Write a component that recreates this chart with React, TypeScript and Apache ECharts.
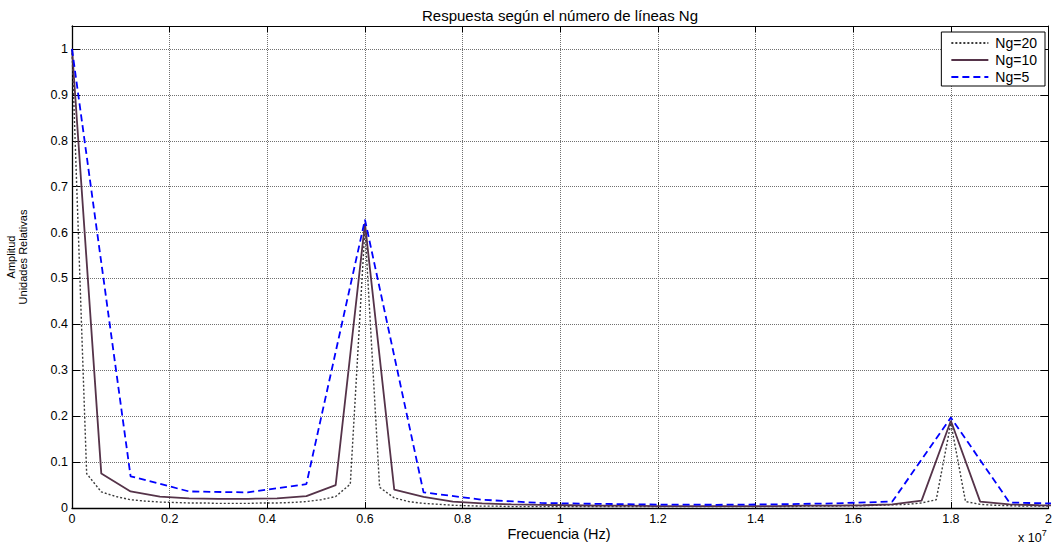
import React, { useEffect, useRef } from "react";
import * as echarts from "echarts";

const FONT = '"Liberation Sans", Arial, Helvetica, sans-serif';

// Frequency sampling steps (Hz) of each curve
const ng20Step = 0.3e6;
const ng10Step = 0.6e6;
const ng5Step = 1.2e6;

// Relative amplitude
const ng20Amp = [
  1.0, 0.075, 0.035, 0.025, 0.018, 0.015, 0.013, 0.012, 0.011, 0.011,
  0.010, 0.010, 0.010, 0.011, 0.011, 0.012, 0.014, 0.018, 0.025, 0.052,
  0.61, 0.045, 0.022, 0.014, 0.010, 0.008, 0.006, 0.005, 0.004, 0.004,
  0.003, 0.003, 0.003, 0.003, 0.003, 0.003, 0.003, 0.003, 0.003, 0.003,
  0.003, 0.003, 0.003, 0.003, 0.003, 0.003, 0.003, 0.003, 0.003, 0.003,
  0.004, 0.004, 0.004, 0.005, 0.005, 0.006, 0.007, 0.008, 0.011, 0.018,
  0.185, 0.014, 0.008, 0.006, 0.005, 0.004, 0.004, 0.004,
];
const ng10Amp = [
  1.0, 0.075, 0.036, 0.025, 0.021, 0.020, 0.020, 0.021, 0.026, 0.050,
  0.62, 0.040, 0.024, 0.014, 0.010, 0.008, 0.007, 0.006, 0.005, 0.005,
  0.004, 0.004, 0.004, 0.004, 0.004, 0.005, 0.005, 0.006, 0.008, 0.016,
  0.19, 0.014, 0.008, 0.006, 0.005,
];
const ng5Amp = [
  1.0, 0.069, 0.036, 0.034, 0.052, 0.628, 0.034, 0.018, 0.011, 0.009,
  0.0075, 0.007, 0.008, 0.010, 0.014, 0.197, 0.012, 0.009,
];

const seriesNames = ["Ng=20", "Ng=10", "Ng=5"];
const xTickInterval = 2e6;
const xMax = 2e7;
const yMax = 1.05;

const toPairs = (amp: number[], step: number) => amp.map((a, i) => [i * step, a]);

export default function App() {
  const ref = useRef<HTMLDivElement>(null);

  useEffect(() => {
    const chart = echarts.init(ref.current!, null, { renderer: "svg" });
    const axisLine = { show: true, onZero: false, lineStyle: { color: "#000", width: 1.3 } };
    const tick = (len: number) => ({ show: true, inside: true, length: len, lineStyle: { color: "#000", width: 1 } });
    const splitLine = { show: true, lineStyle: { color: "#707070", width: 1, type: [1, 1] as any } };
    const labelStyle = { fontFamily: FONT, fontSize: 12.5, color: "#000" };

    chart.setOption({
      animation: false,
      backgroundColor: "#fff",
      grid: { left: 72, right: 6, top: 26, bottom: 38, containLabel: false },
      xAxis: [
        {
          type: "value",
          min: 0,
          max: xMax,
          interval: xTickInterval,
          position: "bottom",
          axisLine,
          axisTick: tick(6),
          splitLine,
          axisLabel: {
            ...labelStyle,
            margin: 4,
            formatter: (v: number) => String(parseFloat((v / 1e7).toFixed(1))),
          },
        },
        {
          type: "value",
          min: 0,
          max: xMax,
          interval: xTickInterval,
          position: "top",
          axisLine: { show: true, onZero: false, lineStyle: { color: "#000", width: 1 } },
          axisTick: tick(6),
          splitLine: { show: false },
          axisLabel: { show: false },
        },
      ],
      yAxis: [
        {
          type: "value",
          min: 0,
          max: yMax,
          interval: 0.1,
          position: "left",
          axisLine,
          axisTick: tick(8),
          splitLine,
          axisLabel: {
            ...labelStyle,
            margin: 4,
            showMaxLabel: false,
            formatter: (v: number) => (v > 1.0001 ? "" : String(parseFloat(v.toFixed(1)))),
          },
        },
        {
          type: "value",
          min: 0,
          max: yMax,
          interval: 0.1,
          position: "right",
          axisLine: { show: true, onZero: false, lineStyle: { color: "#000", width: 1 } },
          axisTick: tick(8),
          splitLine: { show: false },
          axisLabel: { show: false },
        },
      ],
      legend: {
        orient: "vertical",
        right: 10,
        top: 32,
        data: seriesNames,
        itemWidth: 37,
        itemHeight: 14,
        itemGap: 3,
        padding: [4, 8, 2, 9],
        borderColor: "#000",
        borderWidth: 1,
        borderRadius: 0,
        backgroundColor: "#fff",
        itemStyle: { opacity: 0, borderWidth: 0 },
        textStyle: { fontFamily: FONT, fontSize: 14, color: "#000", lineHeight: 14, padding: [0, 0, 0, 2] },
      },
      series: [
        {
          name: seriesNames[0],
          type: "line",
          data: toPairs(ng20Amp, ng20Step),
          symbol: "none",
          clip: true,
          lineStyle: { color: "#3a3a3a", width: 1.4, type: [2, 2] },
          itemStyle: { color: "#3a3a3a" },
          z: 2,
        },
        {
          name: seriesNames[1],
          type: "line",
          data: toPairs(ng10Amp, ng10Step),
          symbol: "none",
          clip: true,
          lineStyle: { color: "#553349", width: 1.8, type: "solid" },
          itemStyle: { color: "#553349" },
          z: 3,
        },
        {
          name: seriesNames[2],
          type: "line",
          data: toPairs(ng5Amp, ng5Step),
          symbol: "none",
          clip: true,
          lineStyle: { color: "#0000ff", width: 1.8, type: [7, 4] },
          itemStyle: { color: "#0000ff" },
          z: 4,
        },
      ],
      graphic: [
        {
          type: "text",
          x: 560,
          y: 15,
          style: {
            text: "Respuesta según el número de líneas Ng",
            fontFamily: FONT,
            fontSize: 15,
            fill: "#000",
            align: "center",
            verticalAlign: "middle",
          },
        },
        {
          type: "text",
          x: 559,
          y: 534,
          style: {
            text: "Frecuencia (Hz)",
            fontFamily: FONT,
            fontSize: 14.5,
            fill: "#000",
            align: "center",
            verticalAlign: "middle",
          },
        },
        {
          type: "text",
          x: 17,
          y: 257,
          rotation: Math.PI / 2,
          style: {
            text: "Amplitud\nUnidades Relativas",
            fontFamily: FONT,
            fontSize: 11,
            lineHeight: 12,
            fill: "#000",
            align: "center",
            verticalAlign: "middle",
          },
        },
        {
          type: "text",
          x: 1018,
          y: 536,
          style: {
            text: "{a|x 10}{b|7}",
            fill: "#000",
            align: "left",
            verticalAlign: "middle",
            rich: {
              a: { fontFamily: FONT, fontSize: 12.5, fill: "#000", verticalAlign: "bottom", lineHeight: 16 },
              b: { fontFamily: FONT, fontSize: 9, fill: "#000", verticalAlign: "top", lineHeight: 16 },
            },
          },
        },
      ],
    });
    return () => chart.dispose();
  }, []);

  return (
    <div
      ref={ref}
      style={{ position: "fixed", left: 0, top: 0, width: 1055, height: 546, background: "#fff" }}
    />
  );
}
